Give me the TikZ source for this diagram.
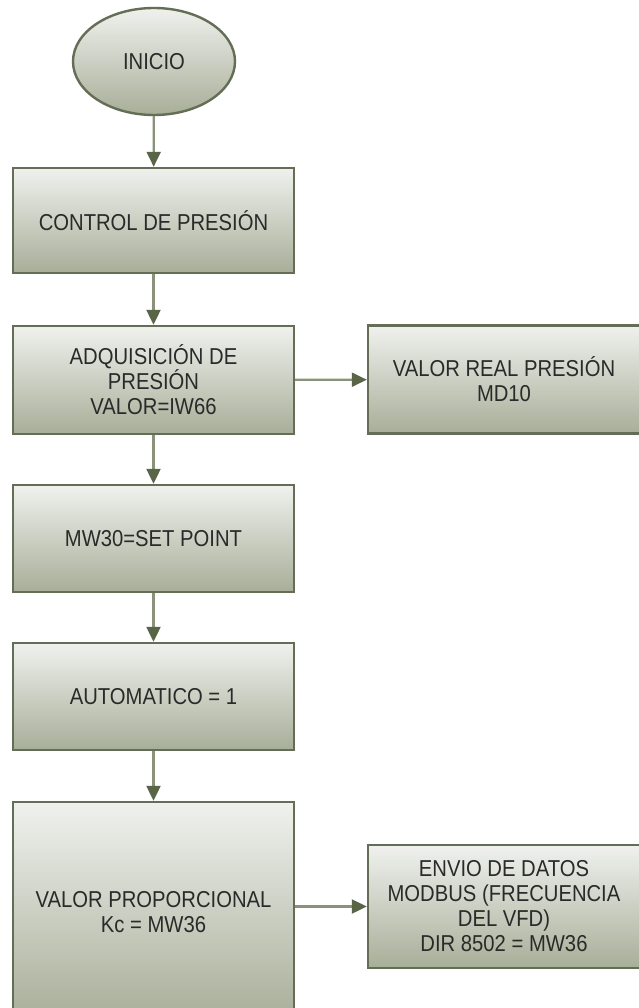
\documentclass[tikz,border=0pt]{standalone}
\usepackage{fontspec}
\setmainfont{Liberation Sans}[FakeStretch=0.88]
\usetikzlibrary{arrows.meta,shapes.geometric}
\definecolor{edgeol}{HTML}{646E56}
\definecolor{lineol}{HTML}{8A9379}
\definecolor{tipol}{HTML}{5A6548}
\definecolor{topfill}{HTML}{F0F1EE}
\definecolor{botfill}{HTML}{A7AE98}
\definecolor{txt}{HTML}{2A2A2A}
\tikzset{
  procbox/.style={rectangle, draw=edgeol, line width=2.4pt, top color=topfill,
    bottom color=botfill, text=txt, align=center, font=\fontsize{23}{25}\selectfont,
    inner sep=0pt},
  startnode/.style={ellipse, draw=edgeol, line width=2.4pt, top color=topfill,
    bottom color=botfill, text=txt, font=\fontsize{23}{25}\selectfont, inner sep=0pt},
  flow/.style={draw=lineol, line width=2.2pt,
    -{Triangle[length=15pt,width=14pt,color=tipol,fill=tipol]}}
}
\begin{document}
\begin{tikzpicture}[x=1pt,y=-1pt]
  \useasboundingbox[fill=white] (0,0) rectangle (638,1008);
  \node[startnode, minimum width=162pt, minimum height=107pt] (ini) at (154,61.5) {INICIO};
  \node[procbox, minimum width=281pt, minimum height=105pt] (ctrl) at (153.5,220.5) {CONTROL DE PRESIÓN};
  \node[procbox, minimum width=281pt, minimum height=108pt] (adq) at (153.5,380) {ADQUISICIÓN DE\\PRESIÓN\\VALOR=IW66};
  \node[procbox, minimum width=272pt, minimum height=108pt] (real) at (504,379.5) {VALOR REAL PRESIÓN\\MD10};
  \node[procbox, minimum width=281pt, minimum height=107pt] (sp) at (153.5,538.5) {MW30=SET POINT};
  \node[procbox, minimum width=281pt, minimum height=107pt] (auto) at (153.5,696.5) {AUTOMATICO = 1};
  \node[procbox, minimum width=281pt, minimum height=220pt] (prop) at (153.5,912) {VALOR PROPORCIONAL\\Kc = MW36};
  \node[procbox, minimum width=272pt, minimum height=123pt] (envio) at (504,906.5) {ENVIO DE DATOS\\MODBUS (FRECUENCIA\\DEL VFD)\\DIR 8502 = MW36};
  \draw[flow] (ini) -- (ctrl);
  \draw[flow] (ctrl) -- (adq);
  \draw[flow] (adq) -- (real);
  \draw[flow] (adq) -- (sp);
  \draw[flow] (sp) -- (auto);
  \draw[flow] (auto) -- (prop);
  \draw[flow] (prop.east |- envio.west) -- (envio.west);
\end{tikzpicture}
\end{document}
